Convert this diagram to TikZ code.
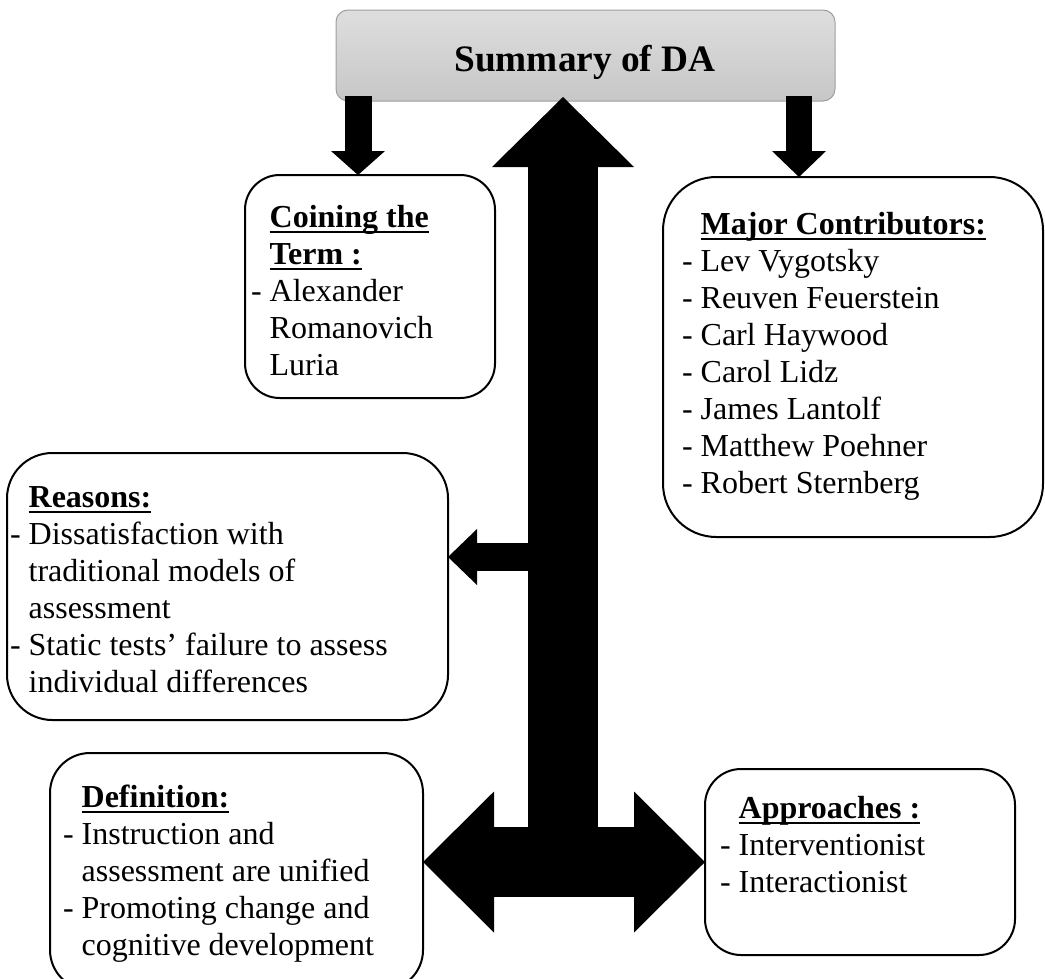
\documentclass[tikz,border=0pt]{standalone}
\usepackage{fontspec}
\setmainfont{Liberation Serif}
\usetikzlibrary{arrows.meta,fit}

% bold heading with a thick underline
\newsavebox\hdbox
\newcommand\hd[1]{\sbox\hdbox{\bfseries #1}\rlap{\usebox\hdbox}\rule[-4.5pt]{\wd\hdbox}{1.5pt}}
\newcommand\gap{\phantom{- }}

\tikzset{
  box/.style={draw, line width=1.5pt, rounded corners=#1, inner sep=0pt, outer sep=0pt},
  txt/.style={anchor=base west, inner sep=0pt, outer sep=0pt,
              font=\fontsize{24}{27.75}\selectfont},
  blockarrow/.style n args={3}{line width=#1,
     -{Triangle[length=#2, width=#3, line width=0pt]}},
  dblarrow/.style n args={3}{line width=#1,
     {Triangle[length=#2, width=#3, line width=0pt]}-{Triangle[length=#2, width=#3, line width=0pt]}}
}

\begin{document}
\begin{tikzpicture}[x=0.75pt, y=-0.75pt]
\useasboundingbox (0,0) rectangle (1045,978);
\clip (0,0) rectangle (1045,978);

% title bar
\node[box=9pt, line width=0.75pt, draw=black!38, top color=black!13, bottom color=black!22,
      fit={(336,10) (835,101)}] (top) {};
\node[anchor=base, inner sep=0pt, font=\fontsize{28}{32}\selectfont\bfseries] (title) at (585,71) {Summary of DA};

% boxes
\node[box=26pt, fit={(245,175) (495,398)}] (coin) {};
\node[box=40pt, fit={(663,177) (1043,537)}] (major) {};
\node[box=34pt, fit={(7,453) (448,720)}] (rea) {};
\node[box=30pt, fit={(50,753) (423,990)}] (def) {};
\node[box=27pt, fit={(705,769) (1015,955)}] (app) {};

% box texts
\node[txt] (coinT) at (251,227) {\begin{tabular}[t]{@{}l@{}}
  \gap\hd{Coining the}\\ \gap\hd{Term :}\\ - Alexander\\ \gap Romanovich\\ \gap Luria
  \end{tabular}};
\node[txt] (majorT) at (682,234) {\begin{tabular}[t]{@{}l@{}}
  \gap\hd{Major Contributors:}\\ - Lev Vygotsky\\ - Reuven Feuerstein\\ - Carl Haywood\\
  - Carol Lidz\\ - James Lantolf\\ - Matthew Poehner\\ - Robert Sternberg
  \end{tabular}};
\node[txt] (reaT) at (10,507) {\begin{tabular}[t]{@{}l@{}}
  \gap\hd{Reasons:}\\ - Dissatisfaction with\\ \gap traditional models of\\ \gap assessment\\
  - Static tests’ failure to assess\\ \gap individual differences
  \end{tabular}};
\node[txt] (defT) at (63,807) {\begin{tabular}[t]{@{}l@{}}
  \gap\hd{Definition:}\\ - Instruction and\\ \gap assessment are unified\\
  - Promoting change and\\ \gap cognitive development
  \end{tabular}};
\node[txt] (appT) at (720,818) {\begin{tabular}[t]{@{}l@{}}
  \gap\hd{Approaches :}\\ - Interventionist\\ - Interactionist
  \end{tabular}};

% block arrows
\draw[blockarrow={20.25pt}{18pt}{40.5pt}] ([yshift=4pt]top.south -| 358,0) -- (coin.north -| 358,0);
\draw[blockarrow={19.5pt}{19.5pt}{40.5pt}] ([yshift=4pt]top.south -| 799,0) -- (major.north -| 799,0);
\coordinate (hub) at (563,862);
\coordinate (branch) at (563,557);
\draw[blockarrow={52.5pt}{52.5pt}{106.5pt}] (hub) -- ([yshift=3pt]top.south -| hub);
\draw[blockarrow={21pt}{21.75pt}{42pt}] (branch) -- (rea.east |- branch);
\draw[dblarrow={52.5pt}{53.25pt}{105.75pt}] (def.east |- app.west) -- (app.west);
\end{tikzpicture}
\end{document}
